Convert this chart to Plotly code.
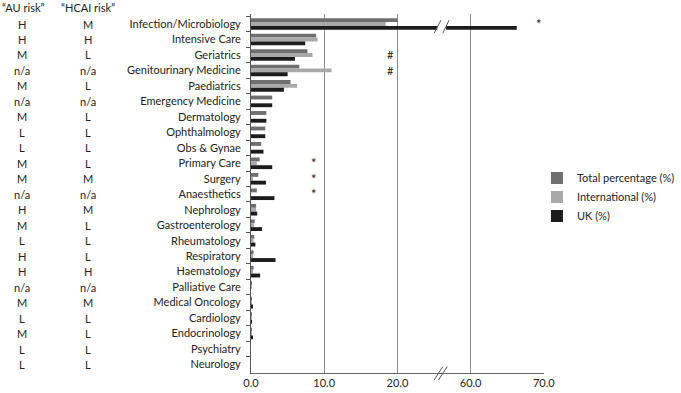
import plotly.graph_objects as go

categories = ["Infection/Microbiology", "Intensive Care", "Geriatrics", "Genitourinary Medicine",
              "Paediatrics", "Emergency Medicine", "Dermatology", "Ophthalmology", "Obs & Gynae",
              "Primary Care", "Surgery", "Anaesthetics", "Nephrology", "Gastroenterology",
              "Rheumatology", "Respiratory", "Haematology", "Palliative Care", "Medical Oncology",
              "Cardiology", "Endocrinology", "Psychiatry", "Neurology"]
au_risk = ["H", "H", "M", "n/a", "M", "n/a", "M", "L", "L", "M", "M", "n/a", "H", "M", "L",
           "H", "H", "n/a", "M", "L", "M", "L", "L"]
hcai_risk = ["M", "H", "L", "n/a", "L", "n/a", "L", "L", "L", "L", "M", "n/a", "M", "L", "L",
             "L", "H", "n/a", "M", "L", "L", "L", "L"]
total_pct = [20.0, 8.9, 7.7, 6.6, 5.4, 2.9, 2.1, 1.95, 1.4, 1.2, 1.0, 0.8, 0.7, 0.5, 0.45,
             0.35, 0.35, 0.1, 0.1, 0.1, 0.1, 0.0, 0.0]
intl_pct = [18.4, 9.1, 8.4, 11.0, 6.3, 0.0, 0.0, 0.0, 0.0, 0.8, 0.2, 0.0, 0.7, 0.4, 0.35,
            0.2, 0.2, 0.1, 0.1, 0.1, 0.05, 0.0, 0.0]
uk_pct = [66.3, 7.4, 6.0, 5.0, 4.5, 2.9, 2.1, 1.95, 1.7, 2.9, 2.05, 3.2, 0.85, 1.5, 0.6,
          3.35, 1.25, 0.0, 0.2, 0.1, 0.2, 0.0, 0.0]
significance = ["*", "", "#", "#", "", "", "", "", "", "*", "*", "*", "", "", "", "", "", "",
                "", "", "", "", ""]
tick_values = [0, 10, 20, 60, 70]
series_names = ["Total percentage (%)", "International (%)", "UK (%)"]

# broken axis: values above 25 are shifted left by 30 (60 -> 30)
BREAK_AT, SHIFT = 25, 30


def disp(v):
    return v - SHIFT if v > BREAK_AT else v


colors = ["#6f6f6f", "#a9a9a9", "#1c1c1c"]
FONT = "Lato"
TXT = dict(size=11, color="#222", family=FONT)
fig = go.Figure()
for name, vals, col in zip(series_names, [total_pct, intl_pct, uk_pct], colors):
    fig.add_trace(go.Bar(
        y=categories, x=[disp(v) for v in vals], orientation="h", name=name,
        marker=dict(color=col, line=dict(width=0)), customdata=vals,
        hovertemplate="%{y}: %{customdata}<extra>" + name + "</extra>"))

annotations = []
# risk columns
annotations.append(dict(xref="paper", yref="paper", x=-0.775, y=1.017, text="\u201cAU risk\u201d",
                        showarrow=False, xanchor="center", yanchor="middle", font=TXT))
annotations.append(dict(xref="paper", yref="paper", x=-0.558, y=1.017, text="\u201cHCAI risk\u201d",
                        showarrow=False, xanchor="center", yanchor="middle", font=TXT))
for c, a, h in zip(categories, au_risk, hcai_risk):
    annotations.append(dict(xref="paper", yref="y", x=-0.78, y=c, text=a, showarrow=False,
                            xanchor="center", font=TXT))
    annotations.append(dict(xref="paper", yref="y", x=-0.558, y=c, text=h, showarrow=False,
                            xanchor="center", font=TXT))
# significance markers
for i, (c, s) in enumerate(zip(categories, significance)):
    if not s:
        continue
    if i == 0:
        xpos = 39.4
    elif s == "#":
        xpos = 19.1
    else:
        xpos = 8.6
    annotations.append(dict(xref="x", yref="y", x=xpos, y=c, text=s, showarrow=False,
                            xanchor="center",
                            font=dict(size=11 if s == "#" else 13, color="#222", family=FONT)))

shapes = [
    # white gap in broken bar
    dict(type="rect", xref="x", yref="y", x0=25.45, x1=26.65, y0=0.05, y1=0.45,
         fillcolor="white", line=dict(width=0), layer="above"),
    dict(type="line", xref="x", yref="y", x0=25.0, x1=25.95, y0=0.6, y1=-0.25,
         line=dict(color="#555", width=1)),
    dict(type="line", xref="x", yref="y", x0=26.2, x1=27.05, y0=0.6, y1=-0.25,
         line=dict(color="#555", width=1)),
    # axis break marks
    dict(type="line", xref="x", yref="paper", x0=25.0, x1=26.2, y0=-0.02, y1=0.018,
         line=dict(color="#555", width=1)),
    dict(type="line", xref="x", yref="paper", x0=25.6, x1=26.8, y0=-0.02, y1=0.018,
         line=dict(color="#555", width=1)),
]

fig.update_layout(
    width=681, height=393,
    margin=dict(l=251, r=137, t=14, b=20, autoexpand=False),
    paper_bgcolor="white", plot_bgcolor="white",
    barmode="group", bargap=0.25, bargroupgap=0,
    font=TXT,
    showlegend=True,
    legend=dict(x=0.976, xanchor="left", y=0.49, yanchor="middle",
                font=TXT, bgcolor="rgba(0,0,0,0)", traceorder="normal"),
    annotations=annotations, shapes=shapes,
    xaxis=dict(range=[0, 40.02], tickvals=[disp(v) for v in tick_values],
               ticktext=[f"{v:.1f}" for v in tick_values],
               showgrid=True, gridcolor="#8c8c8c", gridwidth=1, zeroline=False,
               showline=True, linecolor="#666", linewidth=1, ticks="", automargin=False,
               tickfont=TXT),
    yaxis=dict(type="category", autorange="reversed", tickson="boundaries", ticks="outside",
               ticklen=4, tickcolor="#555", showline=True, linecolor="#555", linewidth=1,
               ticklabelstandoff=7, automargin=False,
               showgrid=False, tickfont=TXT),
)
fig.write_html("out.html", config={"displayModeBar": False},
               post_script="document.body.style.margin='0px';document.body.style.overflow='hidden';")
